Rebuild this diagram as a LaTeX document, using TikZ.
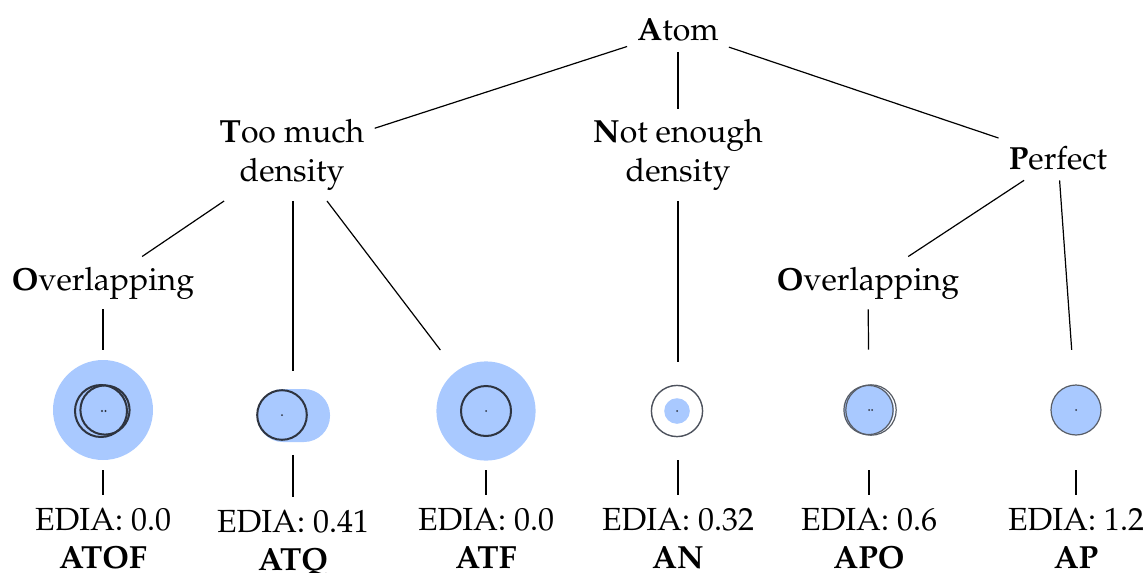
\documentclass[tikz,border=0pt]{standalone}
\usepackage[T1]{fontenc}
\renewcommand{\rmdefault}{ppl}
\definecolor{atomblue}{HTML}{A9C9FF}
\definecolor{ringcol}{HTML}{2E3440}
\tikzset{
  treetext/.style={font=\fontsize{16}{19.5}\selectfont, align=center, inner sep=5pt},
  labeltext/.style={font=\fontsize{16}{19}\selectfont, align=center, inner sep=6.5pt, anchor=north},
  imgnode/.style={circle, inner sep=0pt, minimum size=60pt},
  conn/.style={line width=0.6pt},
  ring/.style={draw=ringcol, line width=1pt},
  thinring/.style={draw=ringcol!80, line width=0.6pt},
}
\begin{document}
\begin{tikzpicture}[x=0.5pt, y=-0.5pt]
\useasboundingbox (0,0) rectangle (1146,573);

% tree text nodes
\node[treetext] (atom) at (678,30) {\textbf{A}tom};
\node[treetext] (too) at (292,155) {\textbf{T}oo much\\density};
\node[treetext] (notenough) at (678,155) {\textbf{N}ot enough\\density};
\node[treetext] (perfect) at (1058,158) {\textbf{P}erfect};
\node[treetext] (ovl) at (103,283) {\textbf{O}verlapping};
\node[treetext] (ovr) at (868,283) {\textbf{O}verlapping};

% image nodes
\node[imgnode] (atof) at (103,410) {};
\node[rectangle, inner sep=0pt, minimum width=37pt, minimum height=41.5pt] (atq) at (293,413) {};
\node[imgnode, minimum size=75pt] (atf) at (486,410) {};
\node[imgnode, minimum size=49pt] (an) at (678,411) {};
\node[imgnode] (apo) at (869,410) {};
\node[imgnode] (ap) at (1076,410) {};

% pictures
% ATOF
\fill[atomblue] (103,410) circle (25pt);
\draw[ring] (101,411) circle (13pt);
\draw[ring] (105,410) circle (12.3pt);
\fill[ringcol] (102,411) circle (0.6pt) (105.5,411) circle (0.6pt);
% ATQ
\fill[atomblue, rounded corners=13pt] (257,389) rectangle (330,442);
\draw[ring] (282,415) circle (12.4pt);
\fill[ringcol] (282,415) circle (0.5pt);
% ATF
\fill[atomblue] (486,411) circle (24.8pt);
\draw[ring] (486,411) circle (12.5pt);
\fill[ringcol] (486,411) circle (0.5pt);
% AN
\draw[draw=ringcol!85, line width=0.7pt, fill=white] (677,411) circle (12.8pt);
\fill[atomblue] (677,411) circle (6.4pt);
\fill[ringcol] (677,411) circle (0.5pt);
% APO
\fill[atomblue] (869,410) circle (12.5pt);
\draw[thinring] (871,410) circle (12.6pt);
\draw[thinring] (868.5,410) circle (12.3pt);
\fill[ringcol] (869,410) circle (0.5pt) (872,410) circle (0.5pt);
% AP
\draw[thinring, fill=atomblue] (1076,410) circle (12.5pt);
\fill[ringcol] (1076,410) circle (0.5pt);

% labels
\node[labeltext] (latof) at (103,495) {EDIA: 0.0\\\textbf{ATOF}};
\node[labeltext] (latq) at (293,497) {EDIA: 0.41\\\textbf{ATQ}};
\node[labeltext] (latf) at (486,495) {EDIA: 0.0\\\textbf{ATF}};
\node[labeltext] (lan) at (678,495) {EDIA: 0.32\\\textbf{AN}};
\node[labeltext] (lapo) at (869,495) {EDIA: 0.6\\\textbf{APO}};
\node[labeltext] (lap) at (1076,495) {EDIA: 1.2\\\textbf{AP}};

% connectors
\draw[conn] (atom) -- (too);
\draw[conn] (atom) -- (notenough);
\draw[conn] (atom) -- (perfect);
\draw[conn] (too) -- (ovl);
\draw[conn] (too.south -| atq) -- (atq);
\draw[conn] (too) -- (atf);
\draw[conn] (notenough) -- (an);
\draw[conn] (perfect) -- (ovr);
\draw[conn] (perfect) -- (ap);
\draw[conn] (ovl) -- (atof);
\draw[conn] (ovr) -- (apo);
\draw[conn] (atof) -- (latof);
\draw[conn] (atq) -- (latq);
\draw[conn] (atf.south |- 0,470) -- (latf);
\draw[conn] (an) -- (lan);
\draw[conn] (apo) -- (lapo);
\draw[conn] (ap) -- (lap);
\end{tikzpicture}
\end{document}
